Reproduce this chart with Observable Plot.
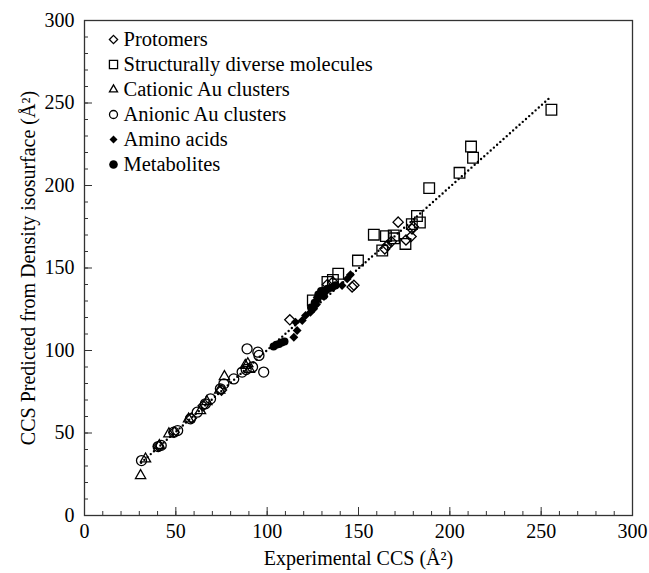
<!DOCTYPE html>
<html><head><meta charset="utf-8">
<script src="https://cdn.jsdelivr.net/npm/d3@7"></script>
<script src="https://cdn.jsdelivr.net/npm/@observablehq/plot@0.6"></script>
<style>body{margin:0;background:#fff}</style>
</head><body><div id="chart"></div>
<script>
// ---- data ----
const protomers = [[40.5,42],[49,50.5],[58.5,59],[65,66.5],[75,76],[112.4,118.6],[133,140],[136,141.5],[146.5,138.5],[147.5,139.5],[164.4,161.6],[165.7,163.6],[168,166],[171.7,177.8],[176,167],[178.8,169.1],[179.3,173.7],[180,175]];
const diverse = [[125,130.3],[133,141.5],[136,142.8],[138.9,146.5],[149.7,154.5],[158.4,170.2],[163,160.6],[165,169.3],[169.3,169.7],[169.5,168],[175.7,164.6],[179.2,176.6],[182,181.5],[183.6,177.6],[188.7,198.4],[205.3,207.7],[211.6,223.6],[212.7,216.8],[255.6,245.9]];
const cationic = [[30.7,24.2],[33.4,34.3],[41,42.5],[46.2,49.5],[57,58.5],[63.5,63.5],[67,69],[74,76],[76.6,84.2],[88,91],[89.4,92],[90.3,88.6]];
const anionic = [[31.2,33.3],[40.3,41.8],[42,42.5],[48.9,50.5],[51,51.5],[58,58.6],[61.7,62.6],[66.2,67.7],[69,70.7],[74.4,76.8],[76.3,79.8],[81.7,82.8],[86.3,86.9],[88.5,88.5],[89,101],[92,90],[94.9,99],[95.5,97],[98.1,86.9]];
const aminoAcids = [[114.6,108],[116.4,112.1],[115.5,117.2],[119.2,118.2],[121,121.2],[123.7,123.2],[125.5,125.3],[127,127.9],[127.4,132.3],[129.2,134.3],[132.8,136.4],[136.5,138.4],[141,139.4],[143.8,143.4],[145.6,145.9]];
const metabolites = [[103.5,102.5],[105,103.5],[106.5,104],[108,104.8],[109.5,105.5],[124,126],[126,129],[127.5,131],[128,134],[129.5,136],[131,133],[133,137.5],[135,138],[137.5,139.5]];
const fitLine = [[31,32],[255,253.5]];
const xMajor = [0,50,100,150,200,250,300];
const yMajor = [0,50,100,150,200,250,300];
const xMinor = d3.range(0,301,10);
const yMinor = d3.range(0,301,10);
const xTitle = "Experimental CCS (Å²)";
const yTitle = "CCS Predicted from Density isosurface (Å²)";
const seriesNames = ["Protomers","Structurally diverse molecules","Cationic Au clusters","Anionic Au clusters","Amino acids","Metabolites"];

// ---- layout ----
const W = 649, H = 573, mL = 84, mR = 17, mT = 20, mB = 58;
const plotW = W - mL - mR, plotH = H - mT - mB;
const FS = 20;
const pts = a => a.map(([x, y]) => ({x, y}));

const styles = [
  {data: protomers, symbol: "diamond2", r: 4.6, fill: "none", stroke: "#000", lr: 3.7},
  {data: diverse, symbol: "square", r: 6.0, fill: "none", stroke: "#000", lr: 4.6},
  {data: cationic, symbol: "triangle", r: 3.8, fill: "none", stroke: "#000", lr: 3.0},
  {data: anionic, symbol: "circle", r: 5.0, fill: "none", stroke: "#000", lr: 4.0},
  {data: aminoAcids, symbol: "diamond2", r: 4.0, fill: "#000", stroke: "none", lr: 3.6},
  {data: metabolites, symbol: "circle", r: 4.0, fill: "#000", stroke: "none", lr: 4.3}
];

const marks = [
  Plot.frame({stroke: "#333", strokeWidth: 1.3}),
  Plot.tickX(xMinor, {x: d => d, insetTop: plotH - 4, stroke: "#333"}),
  Plot.tickX(xMajor, {x: d => d, insetTop: plotH - 8, stroke: "#333"}),
  Plot.tickY(yMinor, {y: d => d, insetRight: plotW - 4, stroke: "#333"}),
  Plot.tickY(yMajor, {y: d => d, insetRight: plotW - 8, stroke: "#333"}),
  Plot.axisX(xMajor, {tickSize: 0, tickPadding: 8, label: null, fontSize: FS}),
  Plot.axisY(yMajor, {tickSize: 0, tickPadding: 10, label: null, fontSize: FS}),
  Plot.line(pts(fitLine), {x: "x", y: "y", stroke: "#000", strokeWidth: 2.4, strokeDasharray: "0 4.3", strokeLinecap: "round"}),
  ...styles.map(s => Plot.dot(pts(s.data), {x: "x", y: "y", symbol: s.symbol, r: s.r, fill: s.fill, stroke: s.stroke, strokeWidth: 1.3})),
  Plot.text([xTitle], {text: d => d, frameAnchor: "bottom", dy: 43, fontSize: FS, textAnchor: "middle", lineAnchor: "middle"}),
  Plot.text([yTitle], {text: d => d, frameAnchor: "left", dx: -56, rotate: -90, fontSize: FS, textAnchor: "middle", lineAnchor: "middle"})
];

seriesNames.forEach((name, i) => {
  const s = styles[i];
  marks.push(Plot.dot([name], {frameAnchor: "top-left", dx: 29, dy: 19 + 25 * i, symbol: s.symbol, r: s.lr, fill: s.fill, stroke: s.stroke, strokeWidth: 1.3}));
  marks.push(Plot.text([name], {text: d => d, frameAnchor: "top-left", dx: 39, dy: 19 + 25 * i, textAnchor: "start", lineAnchor: "middle", fontSize: 20.5}));
});

const chart = Plot.plot({
  width: W, height: H,
  marginLeft: mL, marginRight: mR, marginTop: mT, marginBottom: mB,
  x: {domain: [0, 300]},
  y: {domain: [0, 300]},
  style: {fontFamily: "'Liberation Serif', 'Times New Roman', serif", fontSize: FS + "px", color: "#000", background: "#fff"},
  marks
});
document.getElementById("chart").appendChild(chart);
</script></body></html>
